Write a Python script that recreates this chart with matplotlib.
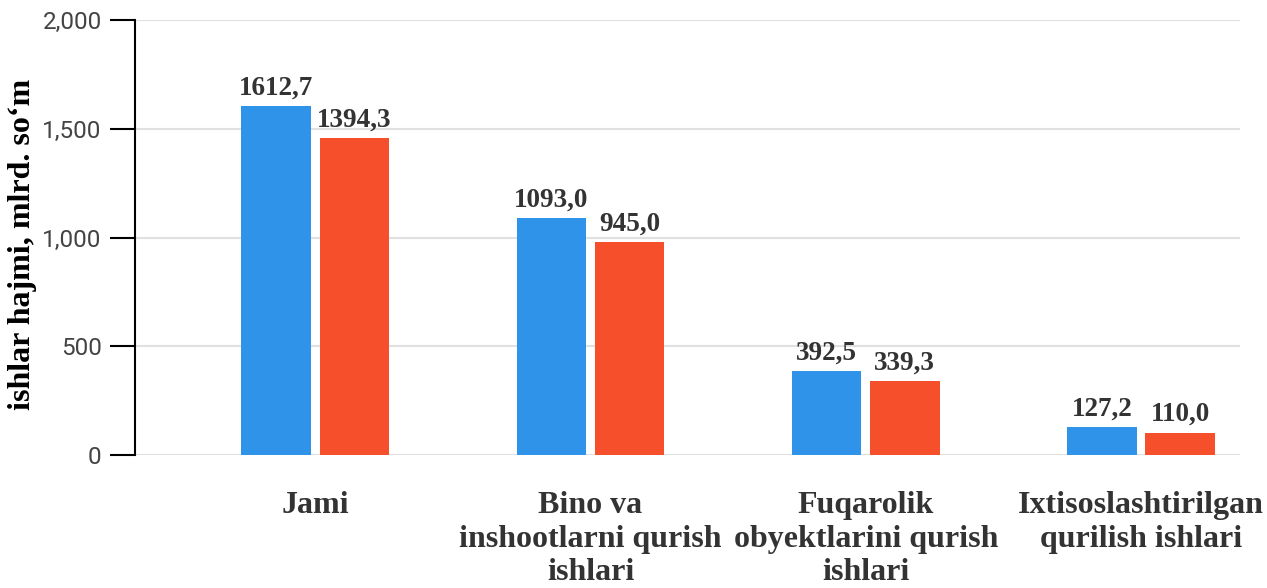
import matplotlib.pyplot as plt
import numpy as np

categories = ['Jami', 'Bino va\ninshootlarni qurish\nishlari',
              'Fuqarolik\nobyektlarini qurish\nishlari',
              'Ixtisoslashtirilgan\nqurilish ishlari']
# bar heights as drawn in the picture
blue_vals = [1604, 1088, 387, 130]
red_vals = [1456, 978, 341, 103]
# labels printed above the bars
blue_labels = ['1612,7', '1093,0', '392,5', '127,2']
red_labels = ['1394,3', '945,0', '339,3', '110,0']
yticks = [0, 500, 1000, 1500, 2000]

blue = '#2F93EA'
red = '#F5502B'
txt = '#333333'

fig = plt.figure(figsize=(12.67, 5.88), dpi=100)
ax = fig.add_axes([135/1267, 1 - 455/588, (1240-135)/1267, (455-20)/588])

x = np.arange(len(categories))
w = 0.253
off = 0.142
b1 = ax.bar(x - off, blue_vals, w, color=blue, zorder=3)
b2 = ax.bar(x + off, red_vals, w, color=red, zorder=3)

lab_font = dict(family='Liberation Serif', fontweight='bold', fontsize=19.5, color=txt)
for rect, s in zip(b1, blue_labels):
    ax.text(rect.get_x() + rect.get_width()/2, rect.get_height() + 25, s,
            ha='center', va='bottom', **lab_font)
for rect, s in zip(b2, red_labels):
    ax.text(rect.get_x() + rect.get_width()/2, rect.get_height() + 25, s,
            ha='center', va='bottom', **lab_font)

ax.set_xlim(-0.655, 3.36)
ax.set_ylim(0, 2000)
ax.set_yticks(yticks)
ax.set_yticklabels([f'{v:,}' for v in yticks], family='Roboto', fontsize=17.5, color='#444444')
ax.grid(axis='y', color='#e0e0e0', linewidth=1.5, zorder=0)
ax.set_axisbelow(True)
ax.tick_params(axis='y', length=18, width=1.5, color='black', pad=6)
ax.tick_params(axis='x', length=0, pad=26)
ax.set_xticks(x)
ax.set_xticklabels(categories, family='Liberation Serif', fontweight='bold',
                   fontsize=23, color=txt, linespacing=1.2)

for s in ['top', 'right', 'bottom']:
    ax.spines[s].set_visible(False)
ax.spines['left'].set_linewidth(1.5)

ax.set_ylabel('ishlar hajmi, mlrd. so‘m', family='Liberation Serif', fontweight='bold',
              fontsize=23, color='black')
ax.yaxis.set_label_coords(-0.089, 0.485)

fig.savefig('out.png', dpi=100)
